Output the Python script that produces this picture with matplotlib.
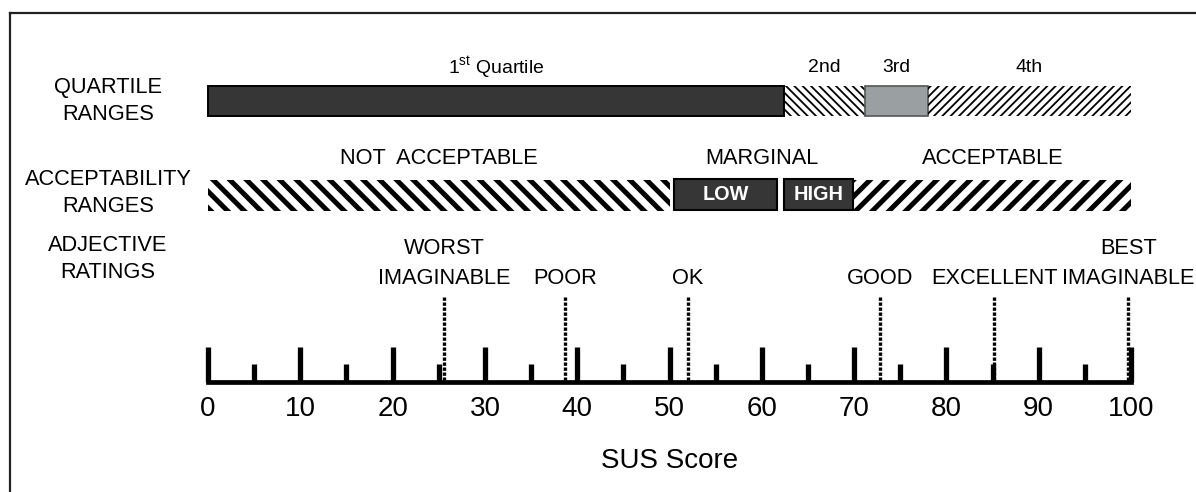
import matplotlib
matplotlib.use("Agg")
import matplotlib.pyplot as plt
from matplotlib import font_manager
from matplotlib.lines import Line2D

# ---------------- data ----------------
major_ticks = [0, 10, 20, 30, 40, 50, 60, 70, 80, 90, 100]
minor_ticks = [5, 15, 25, 35, 45, 55, 65, 75, 85, 95]

quartile_edges = [0, 62.4, 71.2, 78.0, 100]
quartile_labels = [r"1$^{\mathrm{st}}$ Quartile", "2nd", "3rd", "4th"]

accept_edges = [0, 50, 70, 100]
accept_labels = ["NOT  ACCEPTABLE", "MARGINAL", "ACCEPTABLE"]
marginal_low = [50.5, 61.7]
marginal_high = [62.4, 69.9]

adjective_labels = ["WORST\nIMAGINABLE", "POOR", "OK", "GOOD", "EXCELLENT", "BEST\nIMAGINABLE"]
adjective_scores = [25.6, 38.7, 52.0, 72.8, 85.2, 99.7]

row_labels = ["QUARTILE\nRANGES", "ACCEPTABILITY\nRANGES", "ADJECTIVE\nRATINGS"]
x_label = "SUS Score"

# ---------------- fonts ----------------
names = {f.name for f in font_manager.fontManager.ttflist}
if "Liberation Sans Narrow" in names:
    FAM = ["Liberation Sans Narrow", "DejaVu Sans"]
    K = 1.0
else:
    FAM = ["Liberation Sans", "DejaVu Sans"]
    K = 0.87
plt.rcParams["font.family"] = FAM
plt.rcParams["mathtext.fontset"] = "custom"
plt.rcParams["mathtext.rm"] = FAM[0]

# ---------------- figure ----------------
W, H = 1196, 492
fig = plt.figure(figsize=(W / 100, H / 100), dpi=100)
ax = fig.add_axes([0, 0, 1, 1])
x0px, x100px = 208, 1131
ppu = (x100px - x0px) / 100.0
ax.set_xlim(-x0px / ppu, (W - x0px) / ppu)
ax.set_ylim(H, 0)
ax.axis("off")

# outer frame (top and left edges visible)
fig.add_artist(Line2D([10 / W, 10 / W], [0, 1 - 13 / H], color="#222222", lw=1.6))
fig.add_artist(Line2D([10 / W, 1], [1 - 13 / H, 1 - 13 / H], color="#222222", lw=1.6))

DARK = "#363636"
GRAY = "#9a9fa1"


def hatched(left, right, yc, h, hatch, hlw):
    with plt.rc_context({"hatch.linewidth": hlw}):
        bars = ax.barh(yc, right - left, left=left, height=h, color="none",
                       edgecolor="black", linewidth=0, hatch=hatch)
    for b in bars:
        if hasattr(b, "set_hatch_linewidth"):
            b.set_hatch_linewidth(hlw)


# ---------------- quartile row ----------------
qy, qh = 101, 30
q = quartile_edges
ax.barh(qy, q[1] - q[0], left=q[0], height=qh, color=DARK, edgecolor="black", linewidth=1.4)
hatched(q[1], q[2], qy, qh, "\\\\\\\\", 1.3)
ax.barh(qy, q[3] - q[2], left=q[2], height=qh, color=GRAY, edgecolor="#555555", linewidth=1.2)
hatched(q[3], q[4], qy, qh, "////", 1.3)
for i, lab in enumerate(quartile_labels):
    xm = (q[i] + q[i + 1]) / 2
    ax.text(xm, 68, lab, ha="center", va="center", fontsize=16 * K, color="black")

# ---------------- acceptability row ----------------
ay, ah = 195, 31
a = accept_edges
hatched(a[0], a[1], ay, ah, "\\\\", 3.6)
hatched(a[2], a[3], ay, ah, "//", 3.6)
for seg, txt in [(marginal_low, "LOW"), (marginal_high, "HIGH")]:
    ax.barh(ay - 1, seg[1] - seg[0], left=seg[0], height=ah, color=DARK,
            edgecolor="black", linewidth=1.5)
    ax.text((seg[0] + seg[1]) / 2, ay - 1, txt, ha="center", va="center",
            fontsize=16.5 * K, fontweight="bold", color="white")
for i, lab in enumerate(accept_labels):
    xm = (a[i] + a[i + 1]) / 2
    ax.text(xm, 159, lab, ha="center", va="center", fontsize=18 * K, color="black")

# ---------------- adjective ratings ----------------
for s, lab in zip(adjective_scores, adjective_labels):
    ax.plot([s, s], [297, 380], color="black", lw=2.4, linestyle=(0, (1, 0.5)))
    ax.text(s, 289, lab, ha="center", va="bottom", fontsize=18 * K,
            multialignment="center", linespacing=1.55, color="black")

# ---------------- axis ----------------
ax.plot([0, 100], [382, 382], color="black", lw=3.4, solid_capstyle="projecting")
ax.vlines(major_ticks, 347, 382, color="black", lw=3.8)
ax.vlines(minor_ticks, 364, 382, color="black", lw=3.8)
for t in major_ticks:
    ax.text(t, 409, str(t), ha="center", va="center", fontsize=23 * K, color="black")
ax.text(50, 461, x_label, ha="center", va="center", fontsize=23 * K, color="black")

# ---------------- row labels ----------------
row_y = [101, 193, 259]
for yv, lab in zip(row_y, row_labels):
    ax.text(-100 / ppu, yv, lab, ha="center", va="center", fontsize=18 * K,
            multialignment="center", linespacing=1.4, color="black")

fig.savefig("out.png", dpi=100, facecolor="white")
